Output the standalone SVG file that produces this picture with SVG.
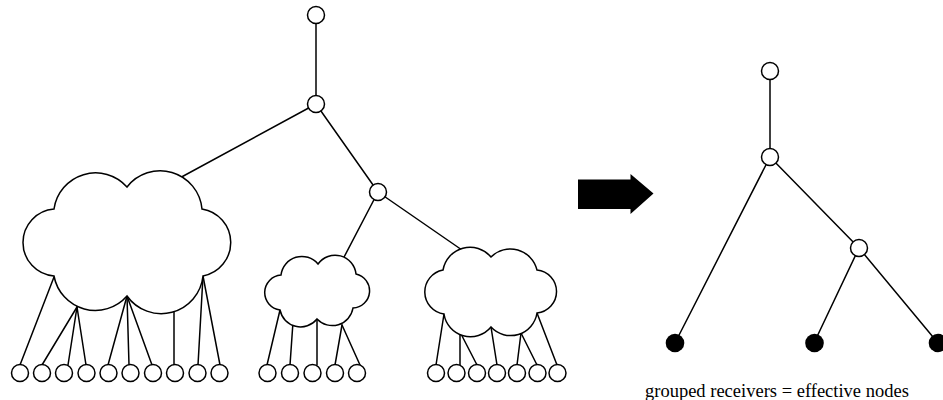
<svg xmlns="http://www.w3.org/2000/svg" width="943" height="400" viewBox="0 0 943 400">
<style>
.ln{stroke:#000;stroke-width:1.5;fill:none;stroke-linecap:round}
.cl{fill:#fff;stroke:#000;stroke-width:1.5;stroke-linejoin:miter}
.nd{fill:#fff;stroke:#000;stroke-width:1.5}
.fn{fill:#000}
.lbl{font-family:"Liberation Serif","Times New Roman",serif;font-size:18.5px;fill:#000}
</style>
<rect width="943" height="400" fill="#fff"/>
<g id="connectors">
<line class="ln" x1="316" y1="15" x2="316" y2="104"/>
<line class="ln" x1="316" y1="104" x2="176" y2="180"/>
<line class="ln" x1="316" y1="104" x2="378" y2="192"/>
<line class="ln" x1="378" y1="192" x2="342" y2="261"/>
<line class="ln" x1="378" y1="192" x2="462" y2="250"/>
<line class="ln" x1="54" y1="277" x2="20" y2="365"/>
<line class="ln" x1="77" y1="307" x2="42" y2="365"/>
<line class="ln" x1="77" y1="307" x2="68" y2="365"/>
<line class="ln" x1="77" y1="307" x2="86" y2="365"/>
<line class="ln" x1="127" y1="296" x2="108" y2="365"/>
<line class="ln" x1="127" y1="296" x2="129" y2="365"/>
<line class="ln" x1="127" y1="296" x2="152" y2="365"/>
<line class="ln" x1="174" y1="307" x2="174" y2="365"/>
<line class="ln" x1="203" y1="276" x2="198" y2="365"/>
<line class="ln" x1="203" y1="276" x2="220" y2="365"/>
<line class="ln" x1="280" y1="310" x2="267" y2="365"/>
<line class="ln" x1="293" y1="322" x2="290" y2="365"/>
<line class="ln" x1="317" y1="319" x2="317" y2="365"/>
<line class="ln" x1="342" y1="325" x2="335" y2="365"/>
<line class="ln" x1="342" y1="325" x2="360" y2="365"/>
<line class="ln" x1="444" y1="314" x2="436" y2="365"/>
<line class="ln" x1="460" y1="332" x2="460" y2="365"/>
<line class="ln" x1="460" y1="332" x2="477" y2="365"/>
<line class="ln" x1="491" y1="327" x2="497" y2="365"/>
<line class="ln" x1="521" y1="333" x2="517" y2="365"/>
<line class="ln" x1="521" y1="333" x2="537" y2="365"/>
<line class="ln" x1="537" y1="313" x2="557" y2="365"/>
<line class="ln" x1="770" y1="71" x2="770" y2="157"/>
<line class="ln" x1="770" y1="157" x2="675" y2="343"/>
<line class="ln" x1="770" y1="157" x2="859" y2="248"/>
<line class="ln" x1="859" y1="248" x2="814" y2="343"/>
<line class="ln" x1="859" y1="248" x2="938" y2="343"/>
</g>
<g id="cloud1"><path class="cl" d="M54 209 A42 42 0 0 1 127 187 A42 42 0 0 1 202 209 A34 34 0 0 1 203 276 A42 42 0 0 1 127 296 A42 42 0 0 1 54 276 A33.6 33.6 0 0 1 54 209 Z"/></g>
<g id="cloud2"><path class="cl" d="M281 275 A21 21 0 0 1 318 264 A21 21 0 0 1 356 274 A17.2 17.2 0 0 1 353 308 A21 21 0 0 1 317 319 A21 21 0 0 1 280 310 A17.6 17.6 0 0 1 281 275 Z"/></g>
<g id="cloud3"><path class="cl" d="M443 270 A27.4 27.4 0 0 1 491 257 A27.4 27.4 0 0 1 537 270 A21.6 21.6 0 0 1 537 313 A26.7 26.7 0 0 1 491 327 A26.7 26.7 0 0 1 444 314 A22.3 22.3 0 0 1 443 270 Z"/></g>
<g id="n-root"><circle class="nd" cx="316" cy="15" r="8.5"/></g>
<g id="n-mid"><circle class="nd" cx="316" cy="104" r="8.5"/></g>
<g id="n-right"><circle class="nd" cx="378" cy="192" r="8.5"/></g>
<g id="leaves1">
<g id="l1-1"><circle class="nd" cx="20" cy="373" r="8.5"/></g>
<g id="l1-2"><circle class="nd" cx="42" cy="373" r="8.5"/></g>
<g id="l1-3"><circle class="nd" cx="64" cy="373" r="8.5"/></g>
<g id="l1-4"><circle class="nd" cx="86.5" cy="373" r="8.5"/></g>
<g id="l1-5"><circle class="nd" cx="108.5" cy="373" r="8.5"/></g>
<g id="l1-6"><circle class="nd" cx="130.5" cy="373" r="8.5"/></g>
<g id="l1-7"><circle class="nd" cx="153" cy="373" r="8.5"/></g>
<g id="l1-8"><circle class="nd" cx="175" cy="373" r="8.5"/></g>
<g id="l1-9"><circle class="nd" cx="197.5" cy="373" r="8.5"/></g>
<g id="l1-10"><circle class="nd" cx="219.5" cy="373" r="8.5"/></g>
</g>
<g id="leaves2">
<g id="l2-1"><circle class="nd" cx="267.5" cy="373" r="8.5"/></g>
<g id="l2-2"><circle class="nd" cx="290" cy="373" r="8.5"/></g>
<g id="l2-3"><circle class="nd" cx="312.5" cy="373" r="8.5"/></g>
<g id="l2-4"><circle class="nd" cx="335" cy="373" r="8.5"/></g>
<g id="l2-5"><circle class="nd" cx="357" cy="373" r="8.5"/></g>
</g>
<g id="leaves3">
<g id="l3-1"><circle class="nd" cx="436" cy="373" r="8.5"/></g>
<g id="l3-2"><circle class="nd" cx="456.5" cy="373" r="8.5"/></g>
<g id="l3-3"><circle class="nd" cx="477" cy="373" r="8.5"/></g>
<g id="l3-4"><circle class="nd" cx="497" cy="373" r="8.5"/></g>
<g id="l3-5"><circle class="nd" cx="517" cy="373" r="8.5"/></g>
<g id="l3-6"><circle class="nd" cx="537.5" cy="373" r="8.5"/></g>
<g id="l3-7"><circle class="nd" cx="557.5" cy="373" r="8.5"/></g>
</g>
<g id="arrow"><path class="fn" d="M578 179.5 H630.5 V174 L653.5 193.5 L630.5 214 V209 H578 Z"/></g>
<g id="r-root"><circle class="nd" cx="770" cy="71" r="8.5"/></g>
<g id="r-mid"><circle class="nd" cx="770" cy="157" r="8.5"/></g>
<g id="r-right"><circle class="nd" cx="859" cy="248" r="8.5"/></g>
<g id="e1"><circle class="fn" cx="675" cy="343" r="9.3"/></g>
<g id="e2"><circle class="fn" cx="814.5" cy="343" r="9.3"/></g>
<g id="e3"><circle class="fn" cx="938" cy="343" r="9.3"/></g>
<g id="caption"><text class="lbl" x="645" y="396.5">grouped receivers = effective nodes</text></g>
</svg>
